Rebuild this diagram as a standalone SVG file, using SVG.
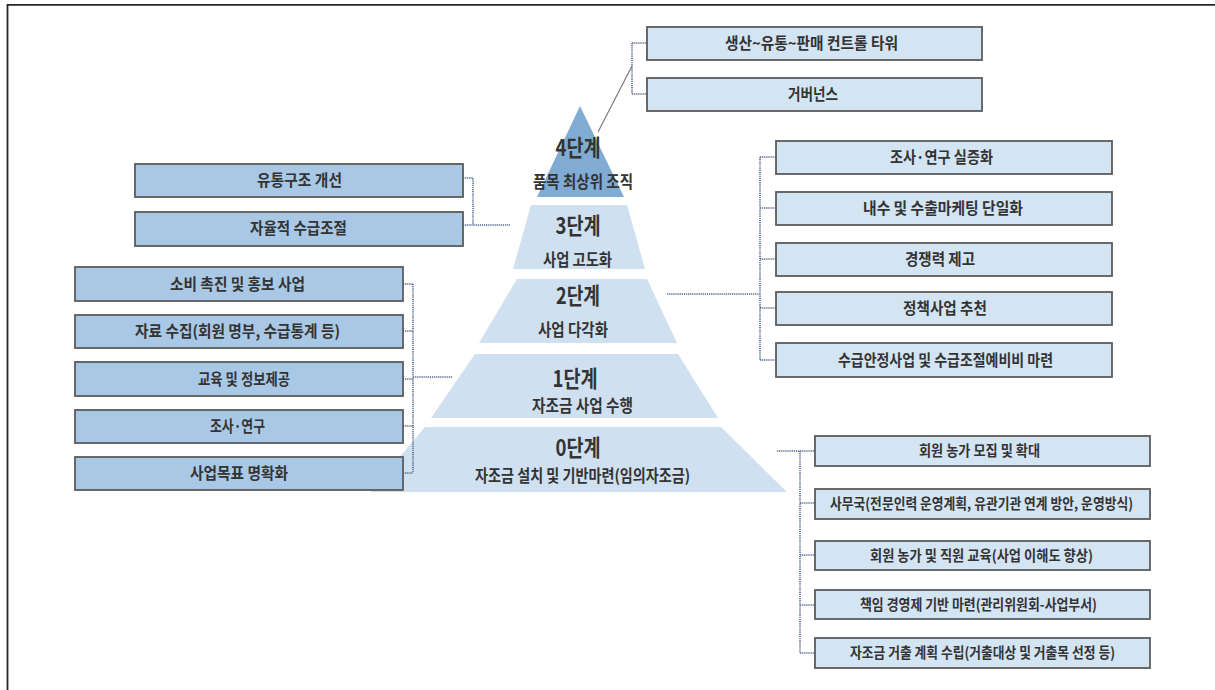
<svg xmlns="http://www.w3.org/2000/svg" width="1215" height="690" viewBox="0 0 1215 690">
<style>
.bg{fill:#ffffff}
.frame{stroke:#262626;stroke-width:1.8;fill:none}
.lay{fill:#cfe0f0}
.top{fill:#80abd3}
.bm{fill:#a9c8e5;stroke:#5b5b5b;stroke-width:1.8}
.bp{fill:#d3e4f3;stroke:#5b5b5b;stroke-width:1.8}
.t{font-family:"Noto Sans CJK KR","Noto Sans",sans-serif;font-weight:700;fill:#333333;text-anchor:middle;font-size:15.5px}
.ts{font-size:14.5px}
.h{font-size:22.5px}
.sub{font-size:16.5px}
.dot{stroke:#4e6288;stroke-width:1.5;stroke-dasharray:1.2 0.9;fill:none}
.sol{stroke:#7a7a7a;stroke-width:1.2;fill:none}
</style>
<rect class="bg" x="0" y="0" width="1215" height="690"/>
<path class="frame" d="M7.5,690 V4.8 H1215"/>

<g id="pyramid">
  <g id="stage4"><polygon class="top" points="580,106 624,197 537,197"/>
    <text class="t h" x="578" y="156" textLength="45" lengthAdjust="spacingAndGlyphs">4단계</text>
    <text class="t sub" x="583" y="188" textLength="100" lengthAdjust="spacingAndGlyphs">품목 최상위 조직</text></g>
  <g id="stage3"><polygon class="lay" points="531,205 627,205 645,269 513,269"/>
    <text class="t h" x="578" y="234" textLength="45" lengthAdjust="spacingAndGlyphs">3단계</text>
    <text class="t sub" x="577.5" y="266" textLength="69" lengthAdjust="spacingAndGlyphs">사업 고도화</text></g>
  <g id="stage2"><polygon class="lay" points="517,279 647,279 677,343 479,343"/>
    <text class="t h" x="578" y="304" textLength="44" lengthAdjust="spacingAndGlyphs">2단계</text>
    <text class="t sub" x="573" y="336" textLength="70" lengthAdjust="spacingAndGlyphs">사업 다각화</text></g>
  <g id="stage1"><polygon class="lay" points="475,354 678,354 718,418 431,418"/>
    <text class="t h" x="575" y="387" textLength="45" lengthAdjust="spacingAndGlyphs">1단계</text>
    <text class="t sub" x="582.5" y="412" textLength="101" lengthAdjust="spacingAndGlyphs">자조금 사업 수행</text></g>
  <g id="stage0"><polygon class="lay" points="425,427 721,427 787,492 370,492"/>
    <text class="t h" x="578" y="456" textLength="45" lengthAdjust="spacingAndGlyphs">0단계</text>
    <text class="t sub" x="582.5" y="482" textLength="215" lengthAdjust="spacingAndGlyphs">자조금 설치 및 기반마련(임의자조금)</text></g>
</g>

<g id="connectors">
  <path class="dot" d="M632,43 V94 M632,43 H647 M632,94 H647"/>
  <path class="sol" d="M632,66 L598,132"/>
  <path class="dot" d="M463,178 H473 V225 M463,225 H510"/>
  <path class="dot" d="M413,284 V473 M403,284 H413 M403,331 H413 M403,379 H413 M403,426 H413 M403,473 H413 M413,377 H452"/>
  <path class="dot" d="M760,157 V360 M760,157 H776 M760,208 H776 M760,259 H776 M760,308 H776 M760,360 H776 M667,294 H760"/>
  <path class="dot" d="M777,451 H815 M800,451 V653 M800,503 H815 M800,555 H815 M800,605 H815 M800,653 H815"/>
</g>

<g id="top-boxes">
  <g id="n-control"><rect class="bp" x="647" y="27" width="335" height="33"/>
    <text class="t" x="811.5" y="49" textLength="173" lengthAdjust="spacingAndGlyphs">생산~유통~판매 컨트롤 타워</text></g>
  <g id="n-governance"><rect class="bp" x="647" y="78" width="335" height="33"/>
    <text class="t" x="813" y="100" textLength="50" lengthAdjust="spacingAndGlyphs">거버넌스</text></g>
</g>

<g id="left-upper">
  <g id="n-distribution"><rect class="bm" x="135" y="164" width="328" height="33"/>
    <text class="t" x="299.5" y="186" textLength="85" lengthAdjust="spacingAndGlyphs">유통구조 개선</text></g>
  <g id="n-supply"><rect class="bm" x="135" y="212" width="328" height="34"/>
    <text class="t" x="298.5" y="234" textLength="97" lengthAdjust="spacingAndGlyphs">자율적 수급조절</text></g>
</g>

<g id="left-lower">
  <g id="n-promo"><rect class="bm" x="75" y="267" width="328" height="34"/>
    <text class="t" x="237.5" y="289.5" textLength="135" lengthAdjust="spacingAndGlyphs">소비 촉진 및 홍보 사업</text></g>
  <g id="n-data"><rect class="bm" x="75" y="315" width="328" height="33"/>
    <text class="t" x="237.5" y="336.5" textLength="205" lengthAdjust="spacingAndGlyphs">자료 수집(회원 명부, 수급통계 등)</text></g>
  <g id="n-edu"><rect class="bm" x="75" y="362" width="328" height="34"/>
    <text class="t" x="244" y="384.5" textLength="92" lengthAdjust="spacingAndGlyphs">교육 및 정보제공</text></g>
  <g id="n-research"><rect class="bm" x="75" y="410" width="328" height="33"/>
    <text class="t" x="237.5" y="431.5" textLength="55" lengthAdjust="spacingAndGlyphs">조사·연구</text></g>
  <g id="n-goal"><rect class="bm" x="75" y="457" width="328" height="33"/>
    <text class="t" x="239" y="478.5" textLength="98" lengthAdjust="spacingAndGlyphs">사업목표 명확화</text></g>
</g>

<g id="right-upper">
  <g id="n-r1"><rect class="bp" x="776" y="141" width="336" height="33"/>
    <text class="t" x="941.5" y="163" textLength="103" lengthAdjust="spacingAndGlyphs">조사·연구 실증화</text></g>
  <g id="n-r2"><rect class="bp" x="776" y="192" width="336" height="33"/>
    <text class="t" x="943" y="214" textLength="160" lengthAdjust="spacingAndGlyphs">내수 및 수출마케팅 단일화</text></g>
  <g id="n-r3"><rect class="bp" x="776" y="243" width="336" height="33"/>
    <text class="t" x="940" y="265" textLength="70" lengthAdjust="spacingAndGlyphs">경쟁력 제고</text></g>
  <g id="n-r4"><rect class="bp" x="776" y="292" width="336" height="33"/>
    <text class="t" x="945" y="314" textLength="84" lengthAdjust="spacingAndGlyphs">정책사업 추천</text></g>
  <g id="n-r5"><rect class="bp" x="776" y="343" width="336" height="34"/>
    <text class="t" x="945.5" y="365.5" textLength="215" lengthAdjust="spacingAndGlyphs">수급안정사업 및 수급조절예비비 마련</text></g>
</g>

<g id="right-lower">
  <g id="n-b1"><rect class="bp" x="815" y="436" width="335" height="30"/>
    <text class="t ts" x="979.5" y="456" textLength="121" lengthAdjust="spacingAndGlyphs">회원 농가 모집 및 확대</text></g>
  <g id="n-b2"><rect class="bp" x="815" y="489" width="335" height="30"/>
    <text class="t ts" x="981.5" y="509" textLength="303" lengthAdjust="spacingAndGlyphs">사무국(전문인력 운영계획, 유관기관 연계 방안, 운영방식)</text></g>
  <g id="n-b3"><rect class="bp" x="815" y="541" width="335" height="29"/>
    <text class="t ts" x="981.5" y="560.5" textLength="223" lengthAdjust="spacingAndGlyphs">회원 농가 및 직원 교육(사업 이해도 향상)</text></g>
  <g id="n-b4"><rect class="bp" x="815" y="590" width="335" height="29"/>
    <text class="t ts" x="978.5" y="609.5" textLength="237" lengthAdjust="spacingAndGlyphs">책임 경영제 기반 마련(관리위원회-사업부서)</text></g>
  <g id="n-b5"><rect class="bp" x="815" y="638" width="335" height="30"/>
    <text class="t ts" x="982.5" y="658" textLength="265" lengthAdjust="spacingAndGlyphs">자조금 거출 계획 수립(거출대상 및 거출목 선정 등)</text></g>
</g>
</svg>
